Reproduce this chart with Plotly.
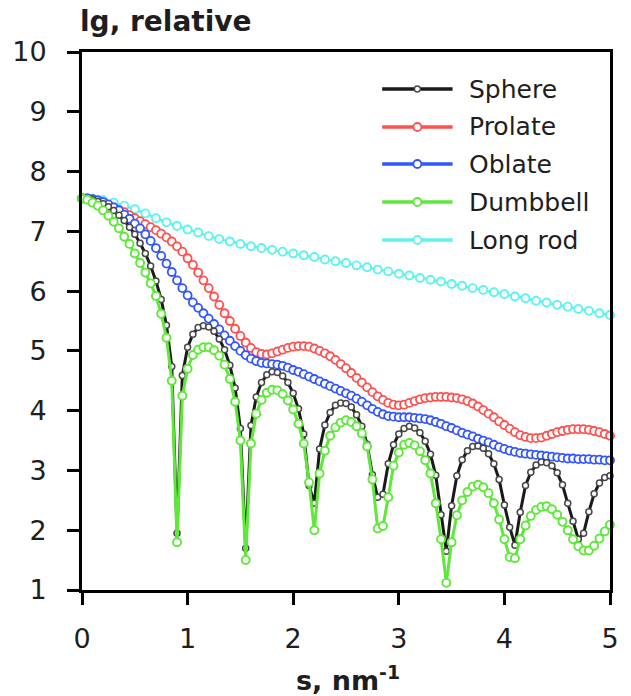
import numpy as np
import plotly.graph_objects as go

# Scattering vector grids, nm^-1
s_fine = np.round(np.arange(101) * 0.05, 2)
s_rod = np.round(np.arange(51) * 0.1, 2)

# lg I(s), relative units
sphere = [
    7.55, 7.54, 7.53, 7.50, 7.46, 7.41, 7.35, 7.27, 7.18, 7.07,
    6.95, 6.80, 6.63, 6.42, 6.17, 5.86, 5.43, 4.74, 1.95, 4.59,
    5.06, 5.28, 5.39, 5.42, 5.40, 5.33, 5.20, 5.02, 4.76, 4.38,
    3.70, 1.70, 3.75, 4.23, 4.47, 4.60, 4.65, 4.64, 4.58, 4.47,
    4.29, 4.03, 3.61, 2.75, 2.45, 3.36, 3.76, 3.97, 4.09, 4.13,
    4.12, 4.06, 3.93, 3.74, 3.44, 2.93, 2.55, 2.60, 3.11, 3.43,
    3.61, 3.70, 3.74, 3.71, 3.63, 3.49, 3.27, 2.92, 2.26, 1.65,
    2.41, 2.91, 3.18, 3.33, 3.40, 3.41, 3.37, 3.28, 3.11, 2.85,
    2.42, 2.05, 1.75, 2.30, 2.75, 2.97, 3.09, 3.14, 3.13, 3.08,
    2.96, 2.76, 2.45, 2.15, 1.85, 1.95, 2.31, 2.61, 2.79, 2.88,
    2.91,
]

prolate = [
    7.55, 7.55, 7.53, 7.51, 7.48, 7.44, 7.40, 7.36, 7.32, 7.27,
    7.22, 7.17, 7.12, 7.07, 7.02, 6.96, 6.90, 6.83, 6.75, 6.66,
    6.55, 6.44, 6.31, 6.18, 6.05, 5.91, 5.77, 5.63, 5.50, 5.37,
    5.25, 5.14, 5.05, 4.98, 4.95, 4.94, 4.96, 4.99, 5.02, 5.05,
    5.07, 5.08, 5.08, 5.07, 5.04, 5.00, 4.96, 4.91, 4.85, 4.78,
    4.71, 4.63, 4.55, 4.47, 4.39, 4.31, 4.24, 4.18, 4.13, 4.10,
    4.09, 4.10, 4.13, 4.16, 4.19, 4.21, 4.22, 4.23, 4.23, 4.23,
    4.22, 4.21, 4.19, 4.16, 4.12, 4.07, 4.01, 3.95, 3.89, 3.82,
    3.76, 3.70, 3.64, 3.59, 3.56, 3.54, 3.54, 3.55, 3.58, 3.61,
    3.64, 3.66, 3.68, 3.69, 3.69, 3.69, 3.68, 3.66, 3.64, 3.61,
    3.58,
]

oblate = [
    7.55, 7.55, 7.54, 7.52, 7.49, 7.45, 7.40, 7.35, 7.28, 7.21,
    7.13, 7.05, 6.95, 6.84, 6.72, 6.59, 6.46, 6.32, 6.18, 6.05,
    5.93, 5.81, 5.72, 5.63, 5.54, 5.45, 5.36, 5.26, 5.17, 5.08,
    5.00, 4.93, 4.87, 4.83, 4.80, 4.79, 4.78, 4.77, 4.75, 4.72,
    4.68, 4.65, 4.61, 4.57, 4.53, 4.49, 4.45, 4.41, 4.37, 4.33,
    4.29, 4.25, 4.20, 4.15, 4.09, 4.03, 3.98, 3.94, 3.91, 3.90,
    3.89, 3.89, 3.89, 3.88, 3.87, 3.86, 3.84, 3.81, 3.78, 3.74,
    3.71, 3.67, 3.63, 3.60, 3.57, 3.53, 3.50, 3.47, 3.43, 3.39,
    3.36, 3.33, 3.31, 3.29, 3.28, 3.27, 3.26, 3.25, 3.24, 3.23,
    3.22, 3.21, 3.20, 3.20, 3.19, 3.19, 3.19, 3.18, 3.18, 3.17,
    3.17,
]

dumbbell = [
    7.55, 7.53, 7.48, 7.43, 7.35, 7.26, 7.16, 7.05, 6.91, 6.79,
    6.63, 6.47, 6.31, 6.13, 5.92, 5.62, 5.22, 4.50, 1.80, 4.25,
    4.70, 4.93, 5.02, 5.06, 5.06, 5.01, 4.92, 4.77, 4.53, 4.15,
    3.50, 1.50, 3.45, 3.95, 4.18, 4.30, 4.35, 4.34, 4.28, 4.17,
    4.02, 3.78, 3.45, 2.80, 2.00, 2.95, 3.33, 3.58, 3.72, 3.80,
    3.84, 3.81, 3.74, 3.62, 3.40, 2.85, 2.03, 2.07, 2.55, 3.08,
    3.30, 3.43, 3.46, 3.42, 3.32, 3.17, 2.95, 2.45, 1.85, 1.12,
    1.80, 2.25, 2.50, 2.64, 2.73, 2.76, 2.72, 2.62, 2.45, 2.18,
    1.85, 1.55, 1.53, 1.85, 2.08, 2.24, 2.34, 2.39, 2.40, 2.35,
    2.26, 2.14, 2.00, 1.85, 1.73, 1.66, 1.66, 1.74, 1.86, 1.98,
    2.09,
]

long_rod = [
    7.55, 7.54, 7.52, 7.48, 7.43, 7.37, 7.30, 7.22, 7.15, 7.09,
    7.03, 6.98, 6.92, 6.87, 6.83, 6.79, 6.75, 6.72, 6.69, 6.66,
    6.63, 6.60, 6.57, 6.53, 6.50, 6.47, 6.43, 6.40, 6.36, 6.33,
    6.29, 6.26, 6.22, 6.19, 6.16, 6.12, 6.09, 6.05, 6.02, 5.98,
    5.95, 5.91, 5.88, 5.84, 5.81, 5.77, 5.74, 5.70, 5.67, 5.63,
    5.60,
]

names = ["Sphere", "Prolate", "Oblate", "Dumbbell", "Long rod"]
colors = {
    "Sphere": "#1a1a1a",
    "Prolate": "#ff5050",
    "Oblate": "#3355ff",
    "Dumbbell": "#5fe83a",
    "Long rod": "#5ff2f2",
}
marker_edge = {
    "Sphere": "#474747",
    "Prolate": "#ff5050",
    "Oblate": "#3355ff",
    "Dumbbell": "#5fe83a",
    "Long rod": "#5ff2f2",
}
marker_size = {"Sphere": 6, "Prolate": 8, "Oblate": 8, "Dumbbell": 8, "Long rod": 8}
marker_lw = {"Sphere": 1.5, "Prolate": 1.8, "Oblate": 1.8, "Dumbbell": 1.9, "Long rod": 1.9}
line_w = {"Sphere": 3, "Prolate": 2.5, "Oblate": 2.5, "Dumbbell": 3, "Long rod": 2.5}

series = {
    "Sphere": (s_fine, sphere),
    "Prolate": (s_fine, prolate),
    "Oblate": (s_fine, oblate),
    "Dumbbell": (s_fine, dumbbell),
    "Long rod": (s_rod, long_rod),
}

FONT = "DejaVu Sans"
TXT = "#1e1e1e"

fig = go.Figure()
# draw order: rod at the back, dumbbell on top
for name in ["Long rod", "Prolate", "Oblate", "Sphere", "Dumbbell"]:
    xs, ys = series[name]
    fig.add_trace(go.Scatter(
        x=xs, y=ys, name=name, mode="lines+markers",
        line=dict(color=colors[name], width=line_w[name]),
        marker=dict(symbol="circle", size=marker_size[name], color="white",
                    line=dict(color=marker_edge[name], width=marker_lw[name])),
        cliponaxis=False, showlegend=False,
    ))

W, H = 631, 696
L, R, T, B = 78, 13, 52, 106
pw, ph = W - L - R, H - T - B


def px_x(px):
    return (px - L) / pw


def px_y(py):
    return (H - B - py) / ph


shapes, annotations = [], []
row_y = [89, 127, 164, 202, 240]
for name, ry in zip(names, row_y):
    shapes.append(dict(type="line", xref="paper", yref="paper",
                       x0=px_x(385), x1=px_x(457), y0=px_y(ry), y1=px_y(ry),
                       line=dict(color=colors[name], width=3.5)))
    r = marker_size[name] / 2
    shapes.append(dict(type="circle", xref="paper", yref="paper",
                       xsizemode="pixel", ysizemode="pixel",
                       xanchor=px_x(421), yanchor=px_y(ry),
                       x0=-r, x1=r, y0=-r, y1=r,
                       fillcolor="white",
                       line=dict(color=marker_edge[name], width=marker_lw[name])))
    annotations.append(dict(text=name, xref="paper", yref="paper",
                            x=px_x(472), y=px_y(ry), xanchor="left", yanchor="middle",
                            showarrow=False, font=dict(family=FONT, size=25, color=TXT)))

annotations.append(dict(text="<b>lg, relative</b>", xref="paper", yref="paper",
                        x=px_x(74), y=px_y(22), xanchor="left", yanchor="middle",
                        showarrow=False, font=dict(family=FONT, size=28, color=TXT)))
annotations.append(dict(text="<b>s, nm<sup>-1</sup></b>", xref="paper", yref="paper",
                        x=px_x(350), y=px_y(678), xanchor="center", yanchor="middle",
                        showarrow=False, font=dict(family=FONT, size=27, color=TXT)))

axis_common = dict(
    showgrid=False, zeroline=False, showline=True, linecolor="black", linewidth=3,
    mirror=True, ticks="outside", ticklen=12, tickwidth=3, tickcolor="black",
    tickfont=dict(family=FONT, size=27, color=TXT),
)

fig.update_layout(
    width=W, height=H,
    margin=dict(l=L, r=R, t=T, b=B, pad=0),
    paper_bgcolor="white", plot_bgcolor="white",
    showlegend=False,
    xaxis=dict(range=[0, 5], tickvals=[0, 1, 2, 3, 4, 5], ticklabelstandoff=11, **axis_common),
    yaxis=dict(range=[1, 10], tickvals=list(range(1, 11)), ticklabelstandoff=15, **axis_common),
    shapes=shapes,
    annotations=annotations,
)

fig.write_html("out.html")
